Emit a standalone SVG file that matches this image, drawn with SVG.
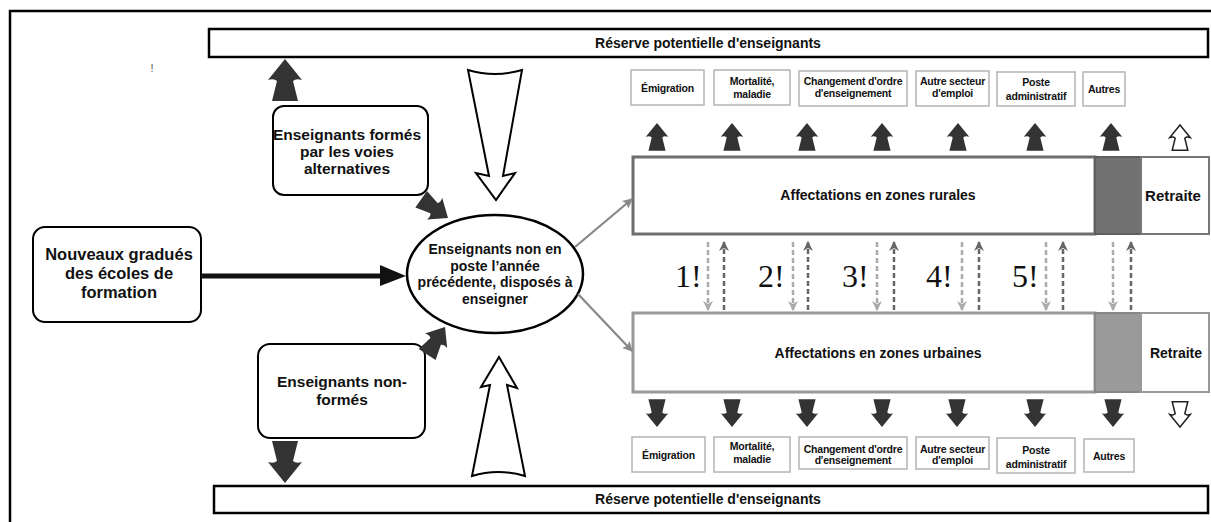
<svg xmlns="http://www.w3.org/2000/svg" width="1211" height="522" viewBox="0 0 1211 522">
<style>
text{font-family:"Liberation Sans",Arial,sans-serif;font-weight:bold;fill:#111;text-anchor:middle}
.res{fill:#fff;stroke:#000;stroke-width:2.5}
.rb{fill:#fff;stroke:#000;stroke-width:2}
.sb{fill:#fff;stroke:#b4b4b4;stroke-width:1.5}
.st{font-size:10.5px;letter-spacing:-0.2px}
.t13{font-size:13px}
.t14{font-size:14px}
.t155{font-size:15.5px}
.t165{font-size:16.5px}
.num{font-family:"Liberation Serif","Times New Roman",serif;font-weight:normal;font-size:32px;text-anchor:start}
.dk{fill:#333}
.hol{fill:#fff;stroke:#222;stroke-width:2.5}
.big{fill:#fff;stroke:#000;stroke-width:2}
.dd{stroke:#aaa;stroke-width:2.5;stroke-dasharray:5 3;fill:none}
.du{stroke:#666;stroke-width:2.5;stroke-dasharray:5 3;fill:none}
.gl{stroke:#888;stroke-width:2.2;fill:none}
</style>
<defs>
<path id="arr" d="M0,0 L17,21 Q11,19 8,22 L13,42 L-13,42 L-8,22 Q-11,19 -17,21 Z"/>
<marker id="mg" viewBox="0 0 10 10" refX="9" refY="5" markerWidth="10" markerHeight="10" markerUnits="userSpaceOnUse" orient="auto">
<path d="M0,0 L10,5 L0,10 L2,5 Z" fill="#888"/>
</marker>
<marker id="ml" viewBox="0 0 10 10" refX="9" refY="5" markerWidth="10" markerHeight="10" markerUnits="userSpaceOnUse" orient="auto">
<path d="M0,0 L10,5 L0,10 L3,5 Z" fill="#aaa"/>
</marker>
<marker id="md" viewBox="0 0 10 10" refX="9" refY="5" markerWidth="10" markerHeight="10" markerUnits="userSpaceOnUse" orient="auto">
<path d="M0,0 L10,5 L0,10 L3,5 Z" fill="#666"/>
</marker>
</defs>

<g id="frame">
<path d="M10,522 L10,11 L1211,11" fill="none" stroke="#000" stroke-width="2.5"/>
<text x="152" y="72" style="font-size:11px;font-weight:normal;fill:#555">!</text>
</g>

<g id="reserve-top">
<rect class="res" x="209" y="29" width="999" height="28"/>
<text class="t14" x="708" y="48">Réserve potentielle d'enseignants</text>
</g>
<g id="reserve-bottom">
<rect class="res" x="214" y="486" width="994" height="27"/>
<text class="t14" x="708" y="504">Réserve potentielle d'enseignants</text>
</g>

<g id="alt">
<rect class="rb" x="273" y="106" width="155" height="89" rx="11"/>
<text class="t155" x="347" y="140">Enseignants formés</text>
<text class="t155" x="347" y="157">par les voies</text>
<text class="t155" x="347" y="174">alternatives</text>
</g>
<g id="nouveaux">
<rect class="rb" x="33" y="227" width="168" height="95" rx="12"/>
<text class="t165" x="119" y="260">Nouveaux gradués</text>
<text class="t165" x="119" y="279">des écoles de</text>
<text class="t165" x="119" y="298">formation</text>
</g>
<g id="nonformes">
<rect class="rb" x="258" y="344" width="167" height="94" rx="12"/>
<text class="t155" x="342" y="387">Enseignants non-</text>
<text class="t155" x="342" y="405">formés</text>
</g>
<g id="pool">
<ellipse cx="495" cy="274" rx="88" ry="59" fill="#fff" stroke="#000" stroke-width="2.5"/>
<text class="t14" x="495" y="254">Enseignants non en</text>
<text class="t14" x="495" y="271">poste l’année</text>
<text class="t14" x="495" y="287">précédente, disposés à</text>
<text class="t14" x="495" y="304">enseigner</text>
</g>

<g id="rural">
<rect x="633" y="157" width="462" height="77" fill="#fff" stroke="#6e6e6e" stroke-width="3"/>
<rect x="1095" y="157" width="46" height="77" fill="#727272" stroke="#5e5e5e" stroke-width="2"/>
<rect x="1141" y="157" width="68" height="77" fill="#fff" stroke="#777" stroke-width="2"/>
<text class="t14" x="878" y="200">Affectations en zones rurales</text>
<text x="1173" y="201" style="font-size:15px">Retraite</text>
</g>
<g id="urbain">
<rect x="633" y="313" width="462" height="79" fill="#fff" stroke="#999" stroke-width="3"/>
<rect x="1095" y="313" width="46" height="79" fill="#9a9a9a" stroke="#888" stroke-width="2"/>
<rect x="1141" y="313" width="68" height="79" fill="#fff" stroke="#999" stroke-width="2"/>
<text class="t14" x="878" y="358">Affectations en zones urbaines</text>
<text class="t14" x="1176" y="358">Retraite</text>
</g>

<g id="dest-top">
<rect class="sb" x="631" y="70" width="73" height="35"/>
<text class="st" x="667.5" y="92">Émigration</text>
<rect class="sb" x="714" y="70" width="76" height="35"/>
<text class="st" x="752" y="85">Mortalité,</text>
<text class="st" x="752" y="98">maladie</text>
<rect class="sb" x="799" y="71" width="108" height="35"/>
<text class="st" x="853" y="85">Changement d'ordre</text>
<text class="st" x="853" y="97">d'enseignement</text>
<rect class="sb" x="916" y="71" width="73" height="35"/>
<text class="st" x="952.5" y="85">Autre secteur</text>
<text class="st" x="952.5" y="97">d'emploi</text>
<rect class="sb" x="997" y="72" width="78" height="34"/>
<text class="st" x="1036" y="86">Poste</text>
<text class="st" x="1036" y="100">administratif</text>
<rect class="sb" x="1083" y="72" width="42" height="34"/>
<text class="st" x="1104" y="93">Autres</text>
</g>
<g id="dest-bottom">
<rect class="sb" x="632" y="437" width="73" height="35"/>
<text class="st" x="668.5" y="459">Émigration</text>
<rect class="sb" x="714" y="437" width="76" height="35"/>
<text class="st" x="752" y="450">Mortalité,</text>
<text class="st" x="752" y="463">maladie</text>
<rect class="sb" x="799" y="437" width="108" height="32"/>
<text class="st" x="853" y="453">Changement d'ordre</text>
<text class="st" x="853" y="464">d'enseignement</text>
<rect class="sb" x="916" y="437" width="73" height="32"/>
<text class="st" x="952.5" y="453">Autre secteur</text>
<text class="st" x="952.5" y="464">d'emploi</text>
<rect class="sb" x="997" y="438" width="78" height="35"/>
<text class="st" x="1036" y="454">Poste</text>
<text class="st" x="1036" y="468">administratif</text>
<rect class="sb" x="1084" y="439" width="50" height="33"/>
<text class="st" x="1109" y="460">Autres</text>
</g>

<g id="numbers">
<text class="num" x="675" y="287">1!</text>
<text class="num" x="758" y="287">2!</text>
<text class="num" x="842" y="287">3!</text>
<text class="num" x="926" y="287">4!</text>
<text class="num" x="1012" y="287">5!</text>
</g>

<g id="connectors">
<line x1="201" y1="276" x2="382" y2="276" stroke="#111" stroke-width="5"/>
<polygon points="380,265 406,276 380,286" fill="#111"/>
<line class="gl" x1="575" y1="247" x2="632" y2="199" marker-end="url(#mg)"/>
<line class="gl" x1="578" y1="294" x2="632" y2="351" marker-end="url(#mg)"/>

<path class="big" d="M468,70 Q495,78 522,70 L503,176 L515,173 L496,200 L476,173 L489,176 Z"/>
<path class="big" d="M499,357 L517,388 L507,385 L525,476 Q498,468 472,476 L490,385 L481,387 Z"/>

<use href="#arr" class="dk" transform="translate(285,59)"/>
<use href="#arr" class="dk" transform="translate(285,483) rotate(180)"/>
<use href="#arr" class="dk" transform="translate(448,218) rotate(125) scale(0.78)"/>
<use href="#arr" class="dk" transform="translate(445,327) rotate(33) scale(0.78)"/>

<use href="#arr" class="dk" transform="translate(657,123) scale(0.66)"/>
<use href="#arr" class="dk" transform="translate(732,123) scale(0.66)"/>
<use href="#arr" class="dk" transform="translate(807,123) scale(0.66)"/>
<use href="#arr" class="dk" transform="translate(882,123) scale(0.66)"/>
<use href="#arr" class="dk" transform="translate(958,123) scale(0.66)"/>
<use href="#arr" class="dk" transform="translate(1035,123) scale(0.66)"/>
<use href="#arr" class="dk" transform="translate(1111,123) scale(0.66)"/>
<use href="#arr" class="hol" transform="translate(1180,125) scale(0.6)"/>

<use href="#arr" class="dk" transform="translate(657,427) rotate(180) scale(0.66)"/>
<use href="#arr" class="dk" transform="translate(732,427) rotate(180) scale(0.66)"/>
<use href="#arr" class="dk" transform="translate(807,427) rotate(180) scale(0.66)"/>
<use href="#arr" class="dk" transform="translate(882,427) rotate(180) scale(0.66)"/>
<use href="#arr" class="dk" transform="translate(957,427) rotate(180) scale(0.66)"/>
<use href="#arr" class="dk" transform="translate(1035,427) rotate(180) scale(0.66)"/>
<use href="#arr" class="dk" transform="translate(1113,427) rotate(180) scale(0.66)"/>
<use href="#arr" class="hol" transform="translate(1180,427) rotate(180) scale(0.6)"/>

<line class="dd" x1="708" y1="242" x2="708" y2="310" marker-end="url(#ml)"/>
<line class="du" x1="724" y1="310" x2="724" y2="242" marker-end="url(#md)"/>
<line class="dd" x1="793" y1="242" x2="793" y2="310" marker-end="url(#ml)"/>
<line class="du" x1="808" y1="310" x2="808" y2="242" marker-end="url(#md)"/>
<line class="dd" x1="877" y1="242" x2="877" y2="310" marker-end="url(#ml)"/>
<line class="du" x1="894" y1="310" x2="894" y2="242" marker-end="url(#md)"/>
<line class="dd" x1="962" y1="242" x2="962" y2="310" marker-end="url(#ml)"/>
<line class="du" x1="979" y1="310" x2="979" y2="242" marker-end="url(#md)"/>
<line class="dd" x1="1046" y1="242" x2="1046" y2="310" marker-end="url(#ml)"/>
<line class="du" x1="1063" y1="310" x2="1063" y2="242" marker-end="url(#md)"/>
<line class="dd" x1="1113" y1="242" x2="1113" y2="310" marker-end="url(#ml)"/>
<line class="du" x1="1131" y1="310" x2="1131" y2="242" marker-end="url(#md)"/>
</g>
</svg>
